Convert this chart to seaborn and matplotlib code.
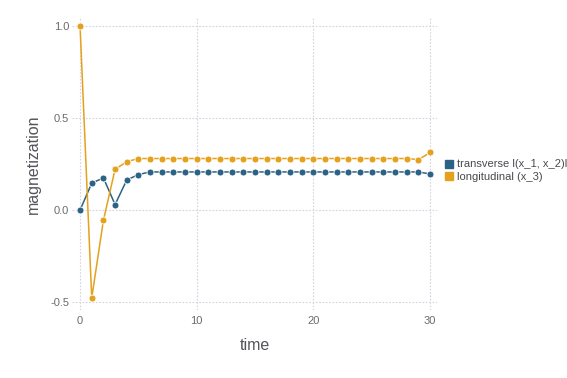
import numpy as np
import pandas as pd
import matplotlib
matplotlib.use("Agg")
import matplotlib.pyplot as plt
from matplotlib.lines import Line2D
import seaborn as sns

time = list(range(31))
transverse = [0.0, 0.146, 0.175, 0.030, 0.163, 0.193] + [0.207] * 24 + [0.196]
longitudinal = [1.0, -0.478, -0.056, 0.221, 0.263, 0.280] + [0.280] * 23 + [0.274, 0.313]
labels = ["transverse l(x_1, x_2)l", "longitudinal (x_3)"]
colors = ["#2c6385", "#e4a11d"]

df = pd.concat([
    pd.DataFrame({"time": time, "magnetization": transverse, "series": labels[0]}),
    pd.DataFrame({"time": time, "magnetization": longitudinal, "series": labels[1]}),
])

sns.set_style("white")
plt.rcParams['font.family'] = ['Liberation Sans', 'DejaVu Sans']

fig = plt.figure(figsize=(5.67, 3.78), dpi=100)
ax = fig.add_axes([0.127, 0.180, 0.644, 0.772])

sns.lineplot(data=df, x="time", y="magnetization", hue="series",
             palette=colors, marker="o", markersize=5, markeredgecolor="white",
             markeredgewidth=0.6, linewidth=1.1, ax=ax, legend=False)

ax.set_xlim(-0.69, 30.6)
ax.set_ylim(-0.543, 1.043)
ax.set_xticks([0, 10, 20, 30])
ax.set_yticks([-0.5, 0.0, 0.5, 1.0])
ax.set_yticklabels(["-0.5", "0.0", "0.5", "1.0"])
ax.grid(True, color="#d4d4e0", linestyle=(0, (1.5, 1.5)), linewidth=0.8)
ax.set_axisbelow(True)
for s in ax.spines.values():
    s.set_visible(False)
ax.tick_params(length=0, labelsize=8, labelcolor="#6c6a6e")
ax.tick_params(axis="x", pad=4)
ax.tick_params(axis="y", pad=2)
ax.set_xlabel("time", fontsize=11.5, color="#56545a", labelpad=9)
ax.set_ylabel("magnetization", fontsize=11.5, color="#56545a", labelpad=7)

handles = [Line2D([], [], marker="s", linestyle="none", color=c, markersize=6)
           for c in colors]
fig.legend(handles, labels, loc="center left", bbox_to_anchor=(0.772, 0.548),
           frameon=False, fontsize=8, labelcolor="#4a484e",
           handletextpad=0.1, borderaxespad=0, labelspacing=0.25, handlelength=1.2)

plt.savefig("out.png", dpi=100)
